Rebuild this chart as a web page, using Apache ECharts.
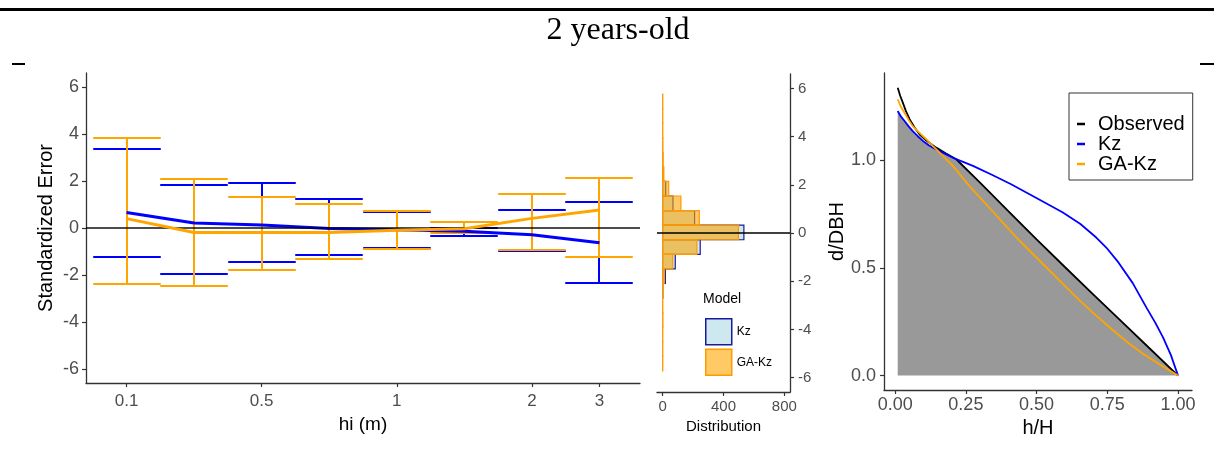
<!DOCTYPE html>
<html>
<head>
<meta charset="utf-8"/>
<script src="https://cdn.jsdelivr.net/npm/echarts@6/dist/echarts.min.js"></script>
<style>
  html, body { margin: 0; padding: 0; background: #fff; }
  #main { width: 1214px; height: 457px; }
</style>
</head>
<body>
<div id="main"></div>
<script>
// --- left panel: standardized error by height class ---
var hiTicks = [0, 2, 4, 6, 7];
var hiTickLabels = ['0.1', '0.5', '1', '2', '3'];
var kzLow  = [-1.23, -1.97, -1.43, -1.14, -0.86, -0.33, -1.00, -2.34];
var kzHigh = [ 3.37,  1.82,  1.92,  1.22,  0.70, -0.02,  0.78,  1.12];
var kzMean = [ 0.66,  0.21,  0.13, -0.02, -0.07, -0.14, -0.29, -0.63];
var gaLow  = [-2.37, -2.46, -1.80, -1.33, -0.89, -0.23, -0.95, -1.22];
var gaHigh = [ 3.82,  2.10,  1.30,  1.01,  0.74,  0.24,  1.46,  2.15];
var gaMean = [ 0.40, -0.19, -0.19, -0.19, -0.10, -0.03,  0.41,  0.77];
var errTicks = [-6, -4, -2, 0, 2, 4, 6];

// --- middle panel: distribution of errors ---
var binStart = -5.725;
var binWidth = 0.605;
var kzCounts = [0, 0, 0, 0, 0, 1, 18, 83, 247, 534, 210, 68, 20, 3, 0, 0, 0, 0, 0];
var gaCounts = [1, 1, 1, 2, 1, 3, 10, 66, 225, 498, 241, 120, 40, 8, 4, 2, 1, 1, 1];
var distTicks = [0, 400, 800];

// --- right panel: stem profile ---
var observed = [[0.009,1.338],[0.018,1.30],[0.027,1.269],[0.038,1.23],[0.051,1.192],[0.068,1.155],
  [0.086,1.122],[0.11,1.093],[0.145,1.06],[0.18,1.033],[0.216,1.006],[0.3,0.897],[0.4,0.765],
  [0.5,0.633],[0.6,0.505],[0.7,0.378],[0.8,0.252],[0.9,0.126],[1.0,0]];
var kzCurve = [[0.009,1.23],[0.02,1.205],[0.033,1.184],[0.047,1.16],[0.062,1.137],[0.08,1.113],
  [0.098,1.091],[0.12,1.07],[0.145,1.052],[0.175,1.032],[0.204,1.013],[0.24,0.994],[0.275,0.975],
  [0.34,0.935],[0.41,0.89],[0.475,0.843],[0.535,0.80],[0.593,0.758],[0.655,0.705],[0.711,0.642],
  [0.75,0.59],[0.79,0.525],[0.84,0.43],[0.888,0.317],[0.92,0.245],[0.947,0.178],[0.975,0.095],[1.0,0]];
var gaCurve = [[0.009,1.285],[0.02,1.25],[0.033,1.222],[0.047,1.19],[0.062,1.16],[0.085,1.13],
  [0.11,1.099],[0.133,1.068],[0.157,1.037],[0.18,1.006],[0.204,0.975],[0.23,0.933],[0.257,0.89],
  [0.3,0.827],[0.35,0.756],[0.395,0.69],[0.44,0.627],[0.511,0.534],[0.593,0.426],[0.65,0.352],
  [0.711,0.279],[0.77,0.211],[0.829,0.147],[0.88,0.098],[0.94,0.048],[1.0,0]];
var shadeTop = [[0.009,1.23],[0.02,1.205],[0.033,1.184],[0.047,1.16],[0.062,1.137],[0.08,1.113],
  [0.098,1.091],[0.12,1.07],[0.145,1.052],[0.18,1.03],[0.216,1.006],[0.3,0.897],[0.4,0.765],
  [0.5,0.633],[0.6,0.505],[0.7,0.378],[0.8,0.252],[0.9,0.126],[1.0,0]];
var hTicks = [0, 0.25, 0.5, 0.75, 1];
var dTicks = [0, 0.5, 1];

var BLUE = '#0000FF', ORANGE = '#FFA500';
var tickColor = '#4D4D4D';
var font = 'Liberation Sans, Arial, sans-serif';

function errData(lo, hi) {
  return lo.map(function (v, i) { return [i, v, hi[i]]; });
}
function pairs(arr) {
  return arr.map(function (v, i) { return [i, v]; });
}
function histData(counts) {
  return counts.map(function (n, i) {
    var lo = binStart + i * binWidth;
    return [n, lo, lo + binWidth];
  });
}

function errItem(color) {
  return function (params, api) {
    var x = api.value(0), lo = api.value(1), hi = api.value(2);
    var half = api.size([1, 0])[0] / 2;
    var t = api.coord([x, hi]), b = api.coord([x, lo]);
    var cx = Math.round(t[0]), ty = Math.round(t[1]), by = Math.round(b[1]);
    var st = { stroke: color, lineWidth: 2 };
    return {
      type: 'group',
      children: [
        { type: 'line', shape: { x1: cx, y1: ty, x2: cx, y2: by }, style: st },
        { type: 'line', shape: { x1: cx - half, y1: ty, x2: cx + half, y2: ty }, style: st },
        { type: 'line', shape: { x1: cx - half, y1: by, x2: cx + half, y2: by }, style: st }
      ]
    };
  };
}

function histItem(fill, stroke) {
  return function (params, api) {
    var n = api.value(0);
    if (!n) return null;
    var p0 = api.coord([0, api.value(2)]);
    var p1 = api.coord([n, api.value(1)]);
    return {
      type: 'rect',
      shape: { x: p0[0], y: p0[1], width: p1[0] - p0[0], height: p1[1] - p0[1] },
      style: { fill: fill, stroke: stroke, lineWidth: 1.2 }
    };
  };
}

function axisBase(extra) {
  var a = {
    axisLine: { onZero: false, lineStyle: { color: '#333', width: 1.3 } },
    splitLine: { show: false },
    nameLocation: 'middle',
    nameTextStyle: { color: '#000', fontFamily: font, fontSize: 20 }
  };
  for (var k in extra) a[k] = extra[k];
  return a;
}
function ticks(values) {
  return { length: 4, customValues: values, lineStyle: { color: '#333', width: 1.2 } };
}

var myChart = echarts.init(document.getElementById('main'));
var option = {
  animation: false,
  title: [
    { text: '2 years-old', left: 613, top: 10, textAlign: 'center',
      textStyle: { fontFamily: 'Liberation Serif, Times New Roman, serif', fontSize: 32, fontWeight: 'normal', color: '#000' } },
    { text: 'Model', left: 698, top: 287,
      textStyle: { fontFamily: font, fontSize: 14, fontWeight: 'normal', color: '#000' } }
  ],
  graphic: [
    { type: 'rect', shape: { x: 0, y: 8, width: 1214, height: 3 }, style: { fill: '#000' } },
    { type: 'rect', shape: { x: 12, y: 63, width: 13, height: 2 }, style: { fill: '#000' } },
    { type: 'rect', shape: { x: 1200, y: 63, width: 14, height: 2 }, style: { fill: '#000' } }
  ],
  legend: [
    {
      data: ['Observed', 'Kz', 'GA-Kz'],
      orient: 'vertical', left: 1069, top: 93,
      padding: [21, 8, 6, 8],
      borderColor: '#333', borderWidth: 1,
      icon: 'rect', itemWidth: 8, itemHeight: 2.5, itemGap: 0,
      textStyle: { fontFamily: font, fontSize: 20, color: '#000', lineHeight: 19, padding: [0, 0, 0, 8] },
      selectedMode: false
    },
    {
      data: [
        { name: 'hist-Kz', itemStyle: { color: 'rgba(173,216,230,0.6)', borderColor: '#1A1AA0', borderWidth: 1.5 } },
        { name: 'hist-GA-Kz', itemStyle: { color: 'rgba(255,165,0,0.6)', borderColor: '#FF9A00', borderWidth: 1.5 } }
      ],
      formatter: function (n) { return n.replace('hist-', ''); },
      orient: 'vertical', left: 700, top: 313,
      icon: 'rect', itemWidth: 26, itemHeight: 26, itemGap: 3,
      textStyle: { fontFamily: font, fontSize: 12, color: '#000' },
      selectedMode: false
    }
  ],
  grid: [
    { left: 86, top: 73, width: 554, height: 310 },
    { left: 657, top: 74, width: 133, height: 318 },
    { left: 884, top: 73, width: 308, height: 317 }
  ],
  xAxis: [
    axisBase({
      gridIndex: 0, type: 'value', min: -0.6, max: 7.6,
      name: 'hi (m)', nameGap: 32, nameTextStyle: { color: '#000', fontFamily: font, fontSize: 19 },
      axisTick: ticks(hiTicks),
      axisLabel: { customValues: hiTicks, margin: 10, color: tickColor, fontFamily: font, fontSize: 17,
        formatter: function (v) { return hiTickLabels[hiTicks.indexOf(v)]; } }
    }),
    axisBase({
      gridIndex: 1, type: 'value', min: -37, max: 837,
      name: 'Distribution', nameGap: 26, nameTextStyle: { color: '#000', fontFamily: font, fontSize: 15 },
      axisTick: ticks(distTicks),
      axisLabel: { customValues: distTicks, margin: 7, color: tickColor, fontFamily: font, fontSize: 15 }
    }),
    axisBase({
      gridIndex: 2, type: 'value', min: -0.0395, max: 1.0495,
      name: 'h/H', nameGap: 28,
      axisTick: ticks(hTicks),
      axisLabel: { customValues: hTicks, margin: 6, color: tickColor, fontFamily: font, fontSize: 18,
        formatter: function (v) { return v.toFixed(2); } }
    })
  ],
  yAxis: [
    axisBase({
      gridIndex: 0, type: 'value', min: -6.6, max: 6.6,
      name: 'Standardized Error', nameGap: 30, nameRotate: 90,
      axisTick: ticks(errTicks),
      axisLabel: { customValues: errTicks, margin: 7, color: tickColor, fontFamily: font, fontSize: 18 }
    }),
    axisBase({
      gridIndex: 1, type: 'value', min: -6.6, max: 6.6, position: 'right',
      axisTick: ticks(errTicks),
      axisLabel: { customValues: errTicks, margin: 8, color: tickColor, fontFamily: font, fontSize: 15 }
    }),
    axisBase({
      gridIndex: 2, type: 'value', min: -0.067, max: 1.407,
      name: 'd/DBH', nameGap: 26, nameRotate: 90,
      axisTick: ticks(dTicks),
      axisLabel: { customValues: dTicks, margin: 8, color: tickColor, fontFamily: font, fontSize: 18,
        formatter: function (v) { return v.toFixed(1); } }
    })
  ],
  series: [
    { name: 'err-Kz', type: 'custom', xAxisIndex: 0, yAxisIndex: 0, data: errData(kzLow, kzHigh),
      encode: { x: 0, y: [1, 2] }, renderItem: errItem(BLUE), z: 2 },
    { name: 'err-GA-Kz', type: 'custom', xAxisIndex: 0, yAxisIndex: 0, data: errData(gaLow, gaHigh),
      encode: { x: 0, y: [1, 2] }, renderItem: errItem(ORANGE), z: 3 },
    { name: 'mean-Kz', type: 'line', xAxisIndex: 0, yAxisIndex: 0, data: pairs(kzMean),
      symbol: 'none', lineStyle: { color: BLUE, width: 3 }, z: 4 },
    { name: 'mean-GA-Kz', type: 'line', xAxisIndex: 0, yAxisIndex: 0, data: pairs(gaMean),
      symbol: 'none', lineStyle: { color: ORANGE, width: 3 }, z: 5,
      markLine: { silent: true, symbol: 'none', label: { show: false },
        lineStyle: { color: 'rgba(0,0,0,0.7)', width: 2, type: 'solid' }, data: [{ yAxis: 0 }] } },

    { name: 'hist-Kz', type: 'custom', xAxisIndex: 1, yAxisIndex: 1, data: histData(kzCounts),
      encode: { x: 0, y: [1, 2] }, renderItem: histItem('rgba(173,216,230,0.6)', '#1A1AA0'), z: 2 },
    { name: 'hist-GA-Kz', type: 'custom', xAxisIndex: 1, yAxisIndex: 1, data: histData(gaCounts),
      encode: { x: 0, y: [1, 2] }, renderItem: histItem('rgba(255,165,0,0.6)', '#FF9A00'), z: 3 },
    { name: 'hist-zero', type: 'line', xAxisIndex: 1, yAxisIndex: 1, data: [], z: 4,
      markLine: { silent: true, symbol: 'none', label: { show: false },
        lineStyle: { color: '#000', width: 1.5, type: 'solid' }, data: [{ yAxis: 0 }] } },

    { name: 'shade', type: 'line', xAxisIndex: 2, yAxisIndex: 2, data: shadeTop, symbol: 'none',
      lineStyle: { width: 0 }, areaStyle: { color: '#999999', opacity: 1 }, itemStyle: { color: '#999999' }, z: 1 },
    { name: 'Observed', type: 'line', xAxisIndex: 2, yAxisIndex: 2, data: observed, symbol: 'none',
      lineStyle: { color: '#000', width: 1.8 }, itemStyle: { color: '#000' }, z: 3 },
    { name: 'Kz', type: 'line', xAxisIndex: 2, yAxisIndex: 2, data: kzCurve, symbol: 'none',
      lineStyle: { color: BLUE, width: 1.8 }, itemStyle: { color: BLUE }, z: 4 },
    { name: 'GA-Kz', type: 'line', xAxisIndex: 2, yAxisIndex: 2, data: gaCurve, symbol: 'none',
      lineStyle: { color: ORANGE, width: 1.8 }, itemStyle: { color: ORANGE }, z: 5 }
  ]
};
myChart.setOption(option);
</script>
</body>
</html>
